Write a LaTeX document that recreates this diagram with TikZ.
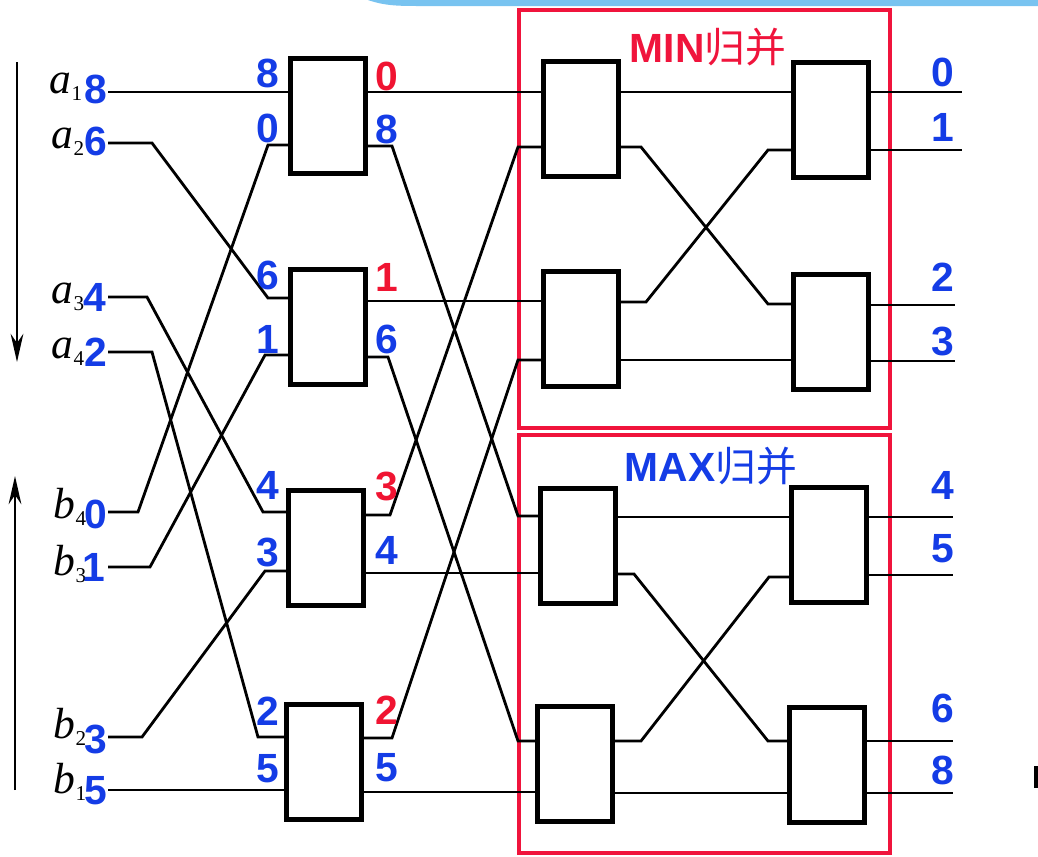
\documentclass[tikz,border=0pt]{standalone}
\usepackage{fontspec}
\setmainfont{Liberation Sans}
\newfontfamily\cjk{Noto Sans CJK SC}
\newfontfamily\tms{Liberation Serif}
\usetikzlibrary{arrows.meta,calc}
\definecolor{nblue}{RGB}{20,60,230}
\definecolor{nred}{RGB}{240,20,50}
\definecolor{boxred}{RGB}{240,20,60}
\definecolor{topblue}{RGB}{120,195,240}
\tikzset{
  gate/.style={draw, fill=white, line width=3.2pt, minimum width=1.875cm, minimum height=2.875cm, inner sep=0pt, outer sep=0pt},
  wire/.style={line width=2pt, line join=miter},
  bnum/.style={text=nblue, font=\fontsize{29}{29}\selectfont\bfseries, inner sep=0pt},
  rnum/.style={text=nred, font=\fontsize{29}{29}\selectfont\bfseries, inner sep=0pt},
  letter/.style={font=\fontsize{31}{31}\selectfont\tms\itshape, anchor=base, inner sep=0pt},
  regbox/.style={draw=boxred, line width=2.6pt},
  dirarrow/.style={line width=2pt, -{Stealth[length=20pt,width=9pt]}}
}
\newcommand\sub[1]{{\fontsize{15}{15}\selectfont\upshape\raisebox{-5pt}{#1}}}
\begin{document}
\begin{tikzpicture}[x=0.025cm,y=-0.025cm]
\useasboundingbox[fill=white] (0,0) rectangle (1038,856);
% top band
\fill[topblue] (368,0) .. controls (385,6) and (400,6) .. (420,6) -- (1038,6) -- (1038,0) -- cycle;

% region boxes
\draw[regbox] (519,10) rectangle (890,428);
\draw[regbox] (519,435) rectangle (890,853);
\node[text=boxred, font=\fontsize{29}{29}\selectfont\bfseries, inner sep=0pt] (tmin) at (708,47) {MIN{\cjk\mdseries 归并}};
\node[text=nblue, font=\fontsize{29}{29}\selectfont\bfseries, inner sep=0pt] (tmax) at (711,466) {MAX{\cjk\mdseries 归并}};

% direction arrows
\coordinate (ad0) at (17,62);
\coordinate (ad1) at (17,362);
\coordinate (bu0) at (15,790);
\coordinate (bu1) at (15,476);
\draw[dirarrow] (ad0) -- (ad1);
\draw[dirarrow] (bu0) -- (bu1);
\coordinate (mk0) at (1036,766);
\coordinate (mk1) at (1036,788);
\draw[line width=3.5pt] (mk0) -- (mk1);

% boxes
\node[gate] (B1) at (328,116) {};
\node[gate] (B2) at (328,327) {};
\node[gate] (B3) at (326,548) {};
\node[gate] (B4) at (324,762) {};
\node[gate] (A) at (581,119) {};
\node[gate] (B) at (581,329) {};
\node[gate] (C) at (578,546) {};
\node[gate] (D) at (575,764) {};
\node[gate] (E) at (831,120) {};
\node[gate] (F) at (831,332) {};
\node[gate] (G) at (829,545) {};
\node[gate] (H) at (827,765) {};

% input letters
\node[letter] (la1) at (66,93) {a\sub{1}};
\node[letter] (la2) at (68,148) {a\sub{2}};
\node[letter] (la3) at (68,303) {a\sub{3}};
\node[letter] (la4) at (68,358) {a\sub{4}};
\node[letter] (lb4) at (70,518) {b\sub{4}};
\node[letter] (lb3) at (70,575) {b\sub{3}};
\node[letter] (lb2) at (70,738) {b\sub{2}};
\node[letter] (lb1) at (70,793) {b\sub{1}};

% input digits
\node[bnum] (i1) at (96,89) {8};
\node[bnum] (i2) at (96,141) {6};
\node[bnum] (i3) at (95,297) {4};
\node[bnum] (i4) at (96,352) {2};
\node[bnum] (i5) at (96,514) {0};
\node[bnum] (i6) at (94,567) {1};
\node[bnum] (i7) at (96,739) {3};
\node[bnum] (i8) at (96,791) {5};

\coordinate (in1) at (108,92);
\coordinate (in2) at (108,143);
\coordinate (in3) at (108,297);
\coordinate (in4) at (108,352);
\coordinate (in5) at (108,512);
\coordinate (in6) at (108,567);
\coordinate (in7) at (108,737);
\coordinate (in8) at (108,790);

% stage 1 wiring
\draw[wire] (in1) -- (B1.west |- 0,92);
\draw[wire] (in2) -- (152,143) -- (268,298) -- (B2.west |- 0,298);
\draw[wire] (in3) -- (147,297) -- (263,512) -- (B3.west |- 0,512);
\draw[wire] (in4) -- (152,352) -- (258,737) -- (B4.west |- 0,737);
\draw[wire] (in5) -- (138,512) -- (268,145) -- (B1.west |- 0,145);
\draw[wire] (in6) -- (150,567) -- (265,355) -- (B2.west |- 0,355);
\draw[wire] (in7) -- (142,737) -- (265,571) -- (B3.west |- 0,571);
\draw[wire] (in8) -- (B4.west |- 0,790);

% stage 1 -> 2
\draw[wire] (B1.east |- 0,92) -- (A.west |- 0,92);
\draw[wire] (B1.east |- 0,146) -- (392,146) -- (518,516) -- (C.west |- 0,516);
\draw[wire] (B2.east |- 0,301) -- (B.west |- 0,301);
\draw[wire] (B2.east |- 0,357) -- (388,357) -- (518,741) -- (D.west |- 0,741);
\draw[wire] (B3.east |- 0,515) -- (390,515) -- (518,147) -- (A.west |- 0,147);
\draw[wire] (B3.east |- 0,573) -- (C.west |- 0,573);
\draw[wire] (B4.east |- 0,738) -- (392,738) -- (518,360) -- (B.west |- 0,360);
\draw[wire] (B4.east |- 0,792) -- (D.west |- 0,792);

% MIN merge
\draw[wire] (A.east |- 0,92) -- (E.west |- 0,92);
\draw[wire] (A.east |- 0,147) -- (641,147) -- (768,304) -- (F.west |- 0,304);
\draw[wire] (B.east |- 0,302) -- (646,302) -- (768,150) -- (E.west |- 0,150);
\draw[wire] (B.east |- 0,360) -- (F.west |- 0,360);
% MAX merge
\draw[wire] (C.east |- 0,517) -- (G.west |- 0,517);
\draw[wire] (C.east |- 0,574) -- (634,574) -- (768,741) -- (H.west |- 0,741);
\draw[wire] (D.east |- 0,741) -- (641,741) -- (769,577) -- (G.west |- 0,577);
\draw[wire] (D.east |- 0,793) -- (H.west |- 0,793);

% outputs
\coordinate (out1) at (962,92);
\coordinate (out2) at (962,150);
\coordinate (out3) at (955,305);
\coordinate (out4) at (955,361);
\coordinate (out5) at (953,517);
\coordinate (out6) at (953,575);
\coordinate (out7) at (953,741);
\coordinate (out8) at (953,793);
\draw[wire] (E.east |- 0,92) -- (out1);
\draw[wire] (E.east |- 0,150) -- (out2);
\draw[wire] (F.east |- 0,305) -- (out3);
\draw[wire] (F.east |- 0,361) -- (out4);
\draw[wire] (G.east |- 0,517) -- (out5);
\draw[wire] (G.east |- 0,575) -- (out6);
\draw[wire] (H.east |- 0,741) -- (out7);
\draw[wire] (H.east |- 0,793) -- (out8);

% stage 1 input labels
\node[bnum] (p1) at (268,73) {8};
\node[bnum] (p2) at (268,128) {0};
\node[bnum] (p3) at (268,275) {6};
\node[bnum] (p4) at (268,339) {1};
\node[bnum] (p5) at (268,485) {4};
\node[bnum] (p6) at (268,552) {3};
\node[bnum] (p7) at (268,711) {2};
\node[bnum] (p8) at (268,769) {5};
% stage 1 output labels
\node[rnum] (q1) at (387,76) {0};
\node[bnum] (q2) at (387,129) {8};
\node[rnum] (q3) at (387,277) {1};
\node[bnum] (q4) at (387,339) {6};
\node[rnum] (q5) at (387,486) {3};
\node[bnum] (q6) at (387,550) {4};
\node[rnum] (q7) at (387,710) {2};
\node[bnum] (q8) at (387,768) {5};
% final output labels
\node[bnum] (o1) at (943,72) {0};
\node[bnum] (o2) at (943,127) {1};
\node[bnum] (o3) at (943,277) {2};
\node[bnum] (o4) at (943,341) {3};
\node[bnum] (o5) at (943,485) {4};
\node[bnum] (o6) at (943,549) {5};
\node[bnum] (o7) at (943,708) {6};
\node[bnum] (o8) at (943,770) {8};
\end{tikzpicture}
\end{document}
